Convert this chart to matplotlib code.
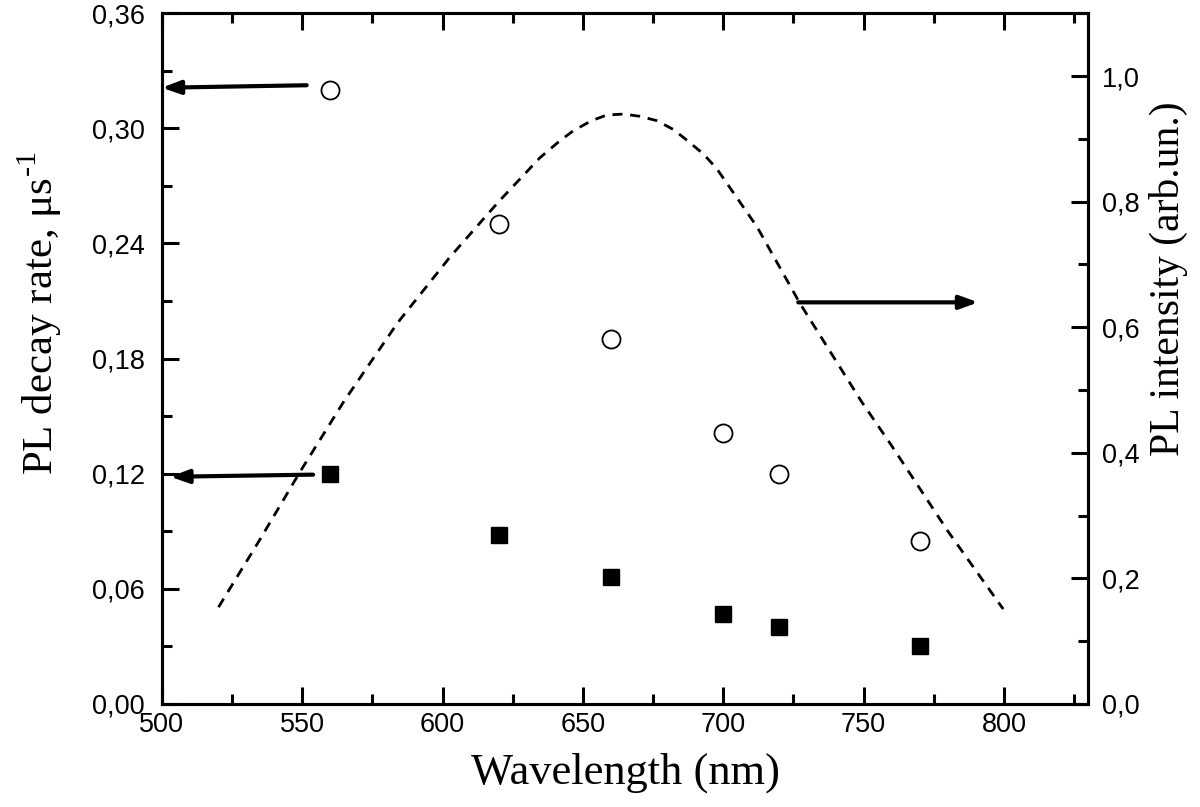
import matplotlib
matplotlib.use('Agg')
import matplotlib.pyplot as plt
from matplotlib.ticker import MultipleLocator, FuncFormatter

# measured decay rates (left axis, 1/us)
wl_pts = [560, 620, 660, 700, 720, 770]
rate_open = [0.320, 0.250, 0.190, 0.141, 0.120, 0.085]
rate_filled = [0.120, 0.088, 0.066, 0.047, 0.040, 0.030]

# PL spectrum (right axis, arb. units)
spec_wl = [520.2, 535, 549.3, 564.9, 584, 602.7, 620, 634.7, 641.8, 646.6,
           653.1, 658.5, 664.4, 670.3, 676.3, 682.2, 687.0, 692.9, 697.6,
           712, 727.3, 749.3, 759.4, 780, 799.7]
spec_int = [0.154, 0.262, 0.370, 0.482, 0.607, 0.712, 0.800, 0.870, 0.897, 0.913,
            0.929, 0.938, 0.9395, 0.936, 0.929, 0.915, 0.898, 0.876, 0.853,
            0.760, 0.638, 0.481, 0.415, 0.275, 0.151]

left_ticks = [0.00, 0.06, 0.12, 0.18, 0.24, 0.30, 0.36]
right_ticks = [0.0, 0.2, 0.4, 0.6, 0.8, 1.0]
x_ticks = [500, 550, 600, 650, 700, 750, 800]

plt.rcParams['font.family'] = 'Liberation Sans'

fig = plt.figure(figsize=(12, 8.07), dpi=100)
ax = fig.add_axes([0.1348, 0.1278, 0.7721, 0.8557])
ax2 = ax.twinx()

ax.plot(wl_pts, rate_open, 'o', ms=13, mfc='white', mec='black', mew=1.3, zorder=5)
ax.plot(wl_pts, rate_filled, 's', ms=11.5, mfc='black', mec='black', zorder=5)
ax2.plot(spec_wl, spec_int, color='black', lw=2.0, dashes=(3.6, 2.8))

ax.set_xlim(500, 830)
ax.set_ylim(0, 0.36)
ax2.set_ylim(0, 1.1)

ax.set_xticks(x_ticks)
ax.xaxis.set_minor_locator(MultipleLocator(25))
ax.set_yticks(left_ticks)
ax.yaxis.set_minor_locator(MultipleLocator(0.03))
ax2.set_yticks(right_ticks)
ax2.yaxis.set_minor_locator(MultipleLocator(0.1))

ax.yaxis.set_major_formatter(FuncFormatter(lambda v, p: f'{v:.2f}'.replace('.', ',')))
ax2.yaxis.set_major_formatter(FuncFormatter(lambda v, p: f'{v:.1f}'.replace('.', ',')))

ax.tick_params(which='both', direction='in', top=True, right=False, width=2.2,
               labelsize=19.5)
ax.tick_params(which='major', length=12)
ax.tick_params(which='minor', length=7)
ax.tick_params(axis='y', pad=12)
ax.tick_params(axis='x', pad=6)
ax2.tick_params(which='both', direction='in', width=2.2, labelsize=19.5, pad=10)
ax2.tick_params(which='major', length=12)
ax2.tick_params(which='minor', length=7)

for a in (ax, ax2):
    for s in a.spines.values():
        s.set_linewidth(2.2)

ax.set_xlabel('Wavelength (nm)', family='Liberation Serif', size=32, labelpad=10)
ax.set_ylabel('PL decay rate, μs$^{\\mathregular{\u20101}}$',
              family='Liberation Serif', size=31)
ax2.set_ylabel('PL intensity (arb.un.)', family='Liberation Serif', size=30)
ax.yaxis.set_label_coords(-0.105, 0.565)
ax2.yaxis.set_label_coords(1.066, 0.615)

arrow = dict(arrowstyle='-|>,head_length=1.1,head_width=0.4', color='black',
             lw=3, shrinkA=0, shrinkB=0)
ax.annotate('', xy=(500, 0.3212), xytext=(551.6, 0.3225), arrowprops=arrow)
ax.annotate('', xy=(503, 0.1184), xytext=(553.9, 0.1195), arrowprops=arrow)
ax2.annotate('', xy=(790.8, 0.6396), xytext=(726.7, 0.6396), arrowprops=arrow)

fig.savefig('out.png', dpi=100)
